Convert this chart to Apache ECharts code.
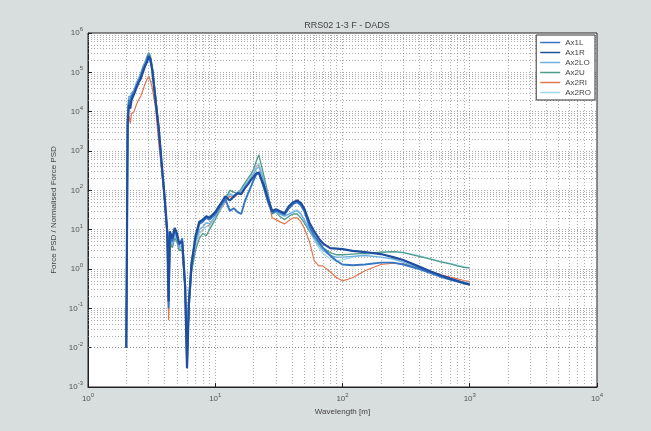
<!DOCTYPE html>
<html>
<head>
<meta charset="utf-8">
<script src="https://cdn.jsdelivr.net/npm/echarts@6/dist/echarts.min.js"></script>
<style>
html,body{margin:0;padding:0;background:#d8dddd;}
#c{width:651px;height:431px;}
</style>
</head>
<body>
<div id="c"></div>
<script>
const titleText = 'RRS02 1-3 F - DADS';
const xName = 'Wavelength [m]';
const yName = 'Force PSD / Normalised Force PSD';
const seriesNames = ['Ax1L', 'Ax1R', 'Ax2LO', 'Ax2U', 'Ax2RI', 'Ax2RO'];

const wavelength = [2.0, 2.05, 2.1, 2.15, 2.2, 2.3, 2.4, 2.5, 2.6, 2.7, 2.8, 2.9, 3.0, 3.1, 3.2, 3.4, 3.6, 3.8, 4.0, 4.2,
  4.3, 4.4, 4.6, 4.8, 5.0, 5.2, 5.5, 5.8, 6.0, 6.2, 6.5, 7.0, 7.5, 8, 8.5, 9, 10, 11, 12, 13,
  14, 15, 16, 17, 18, 19, 20, 21, 22, 24, 26, 28, 30, 32, 35, 38, 41, 44, 47, 50,
  55, 60, 65, 70, 80, 90, 100, 120, 150, 200, 250, 300, 400, 500, 600, 700, 800, 900, 1000];

const ax1L = [0.01, 8000, 20000, 15000, 25000, 30000, 45000, 60000, 80000, 120000,
  150000, 200000, 280000, 250000, 120000, 20000, 4000, 400, 60, 8,
  0.1, 8, 5, 10, 7, 4, 6, 0.4, 0.004, 0.15,
  1.5, 6, 14, 16, 20, 18, 25, 40, 60, 30,
  35, 28, 25, 50, 80, 120, 180, 250, 290, 120,
  50, 27, 30, 28, 24, 35, 45, 50, 42, 30,
  12, 7, 5, 3.5, 2.2, 1.6, 1.3, 1.25, 1.3, 1.45,
  1.45, 1.3, 1.0, 0.78, 0.62, 0.54, 0.48, 0.43, 0.4];

const ax1R = [0.01, 5000, 15000, 12000, 20000, 28000, 40000, 55000, 70000, 100000,
  140000, 180000, 250000, 220000, 110000, 18000, 3500, 450, 70, 9,
  0.15, 9, 6, 11, 8, 4.5, 5, 0.35, 0.003, 0.12,
  1.2, 7, 16, 18, 22, 20, 28, 45, 70, 55,
  70, 85, 80, 110, 140, 180, 220, 270, 280, 140,
  60, 30, 33, 30, 26, 40, 50, 55, 48, 35,
  15, 9, 6, 4.5, 3.4, 3.3, 3.2, 2.9, 2.7, 2.4,
  2.0, 1.7, 1.15, 0.85, 0.68, 0.57, 0.5, 0.44, 0.4];

const ax2LO = [0.02, 6000, 25000, 18000, 30000, 35000, 55000, 70000, 90000, 130000,
  170000, 220000, 250000, 200000, 130000, 25000, 3000, 350, 60, 7,
  0.2, 6, 4, 8, 6, 3.5, 4, 0.3, 0.005, 0.1,
  1, 5, 10, 12, 15, 14, 22, 35, 55, 80,
  70, 90, 100, 130, 160, 200, 260, 350, 400, 180,
  70, 30, 28, 25, 22, 25, 28, 30, 25, 18,
  10, 6, 4, 3, 2.2, 2.0, 2.0, 2.1, 2.2, 2.0,
  1.8, 1.5, 1.05, 0.8, 0.66, 0.57, 0.5, 0.46, 0.43];

const ax2U = [0.01, 10000, 25000, 20000, 28000, 35000, 50000, 70000, 95000, 140000,
  180000, 250000, 320000, 260000, 140000, 25000, 3500, 400, 60, 7,
  0.15, 5, 3.5, 6, 5, 3, 3, 0.3, 0.005, 0.08,
  0.8, 3, 6, 8, 7, 10, 18, 35, 60, 100,
  90, 80, 110, 150, 200, 250, 350, 550, 800, 250,
  80, 25, 28, 22, 18, 22, 25, 25, 20, 15,
  9, 6, 4.5, 3.5, 2.6, 2.3, 2.3, 2.4, 2.5, 2.7,
  2.75, 2.6, 2.1, 1.75, 1.5, 1.35, 1.2, 1.1, 1.05];

const ax2RI = [0.02, 3000, 8000, 5000, 9000, 10000, 15000, 20000, 25000, 35000,
  50000, 65000, 80000, 60000, 40000, 12000, 1500, 300, 50, 5,
  0.05, 5, 3.5, 7, 5, 3, 3.5, 0.3, 0.004, 0.1,
  1, 4, 8, 10, 12, 13, 20, 32, 50, 70,
  65, 80, 95, 130, 170, 220, 300, 400, 450, 200,
  60, 20, 18, 16, 14, 17, 20, 20, 16, 11,
  5, 1.6, 1.2, 1.2, 0.85, 0.6, 0.5, 0.6, 0.9, 1.3,
  1.4, 1.35, 1.05, 0.82, 0.7, 0.62, 0.56, 0.51, 0.48];

const ax2RO = [0.015, 8000, 22000, 17000, 26000, 33000, 48000, 65000, 85000, 120000,
  160000, 210000, 230000, 190000, 120000, 22000, 3000, 380, 55, 7,
  0.2, 6, 4, 7, 5.5, 3.2, 3.5, 0.3, 0.006, 0.1,
  0.9, 4, 8, 10, 12, 12, 20, 33, 55, 85,
  75, 85, 100, 140, 180, 230, 300, 420, 500, 220,
  75, 30, 30, 26, 22, 25, 30, 32, 26, 18,
  10, 5.5, 3.5, 2.5, 1.8, 1.6, 1.7, 2.0, 2.3, 2.6,
  2.75, 2.65, 2.2, 1.8, 1.55, 1.4, 1.25, 1.15, 1.08];

const seriesValues = [ax1L, ax1R, ax2LO, ax2U, ax2RI, ax2RO];
const seriesColors = ['#3576c4', '#1f4e9e', '#6fb0e0', '#4f9a8a', '#e2764f', '#a0d8ec'];
const seriesWidths = [1.9, 2.2, 1.4, 1.3, 1.2, 1.2];
const seriesZ = [5, 6, 3, 2, 1, 1];

const xMin = 1, xMax = 10000, yMin = 0.001, yMax = 1000000;
const xMinorVals = [], yMinorVals = [];
for (let k = 0; k < 4; k++) for (let m = 2; m < 10; m++) xMinorVals.push(m * Math.pow(10, k));
for (let k = -3; k < 6; k++) for (let m = 2; m < 10; m++) yMinorVals.push(+(m * Math.pow(10, k)).toPrecision(3));

const chart = echarts.init(document.getElementById('c'), null, {renderer: 'canvas'});

const supFmt = v => '{b|10}{s|' + Math.round(Math.log10(v)) + '}';
const labelRich = {
  b: {fontSize: 8, color: '#555', fontFamily: 'Liberation Sans'},
  s: {fontSize: 6, color: '#555', fontFamily: 'Liberation Sans', padding: [0, 0, 7, 0]}
};
const gridLine = {type: [1, 2], color: '#8a8a8a', width: 0.7};

const series = seriesNames.map((n, i) => ({
  name: n,
  type: 'line',
  data: wavelength.map((x, j) => [x, seriesValues[i][j]]),
  symbol: 'none',
  z: seriesZ[i] + 10,
  lineStyle: {color: seriesColors[i], width: seriesWidths[i]},
  itemStyle: {color: seriesColors[i]}
}));

series.push({
  name: 'minorgrid',
  type: 'line',
  data: [[10, 1]],
  symbol: 'none',
  lineStyle: {opacity: 0},
  z: 1,
  silent: true,
  markLine: {
    silent: true,
    symbol: 'none',
    label: {show: false},
    lineStyle: gridLine,
    animation: false,
    data: xMinorVals.map(v => ({xAxis: v})).concat(yMinorVals.map(v => ({yAxis: v})))
  }
});

chart.setOption({
  animation: false,
  backgroundColor: '#d8dddd',
  title: {
    text: titleText,
    left: 342, top: 16, textAlign: 'center',
    textStyle: {fontSize: 9, fontWeight: 'normal', color: '#444', fontFamily: 'Liberation Sans'}
  },
  grid: {left: 88, right: 54, top: 33, bottom: 44, show: true, backgroundColor: '#ffffff', borderColor: '#222', borderWidth: 1},
  legend: {
    data: seriesNames,
    orient: 'vertical',
    right: 56, top: 35,
    backgroundColor: '#ffffff',
    borderColor: '#333', borderWidth: 1,
    padding: [3, 4, 3, 4],
    itemWidth: 20, itemHeight: 8, itemGap: 1,
    icon: 'path://M0,4 L20,4 L20,5.5 L0,5.5 Z',
    textStyle: {fontSize: 8, color: '#444', fontFamily: 'Liberation Sans', lineHeight: 9},
    z: 20
  },
  xAxis: {
    type: 'log', logBase: 10, min: xMin, max: xMax,
    name: xName, nameLocation: 'middle', nameGap: 13,
    nameTextStyle: {fontSize: 8, color: '#444', fontFamily: 'Liberation Sans'},
    axisLine: {show: true, lineStyle: {color: '#222'}},
    axisTick: {show: true, inside: true, length: 4, lineStyle: {color: '#222'}},
    axisLabel: {formatter: supFmt, rich: labelRich, margin: 5},
    splitLine: {show: true, lineStyle: gridLine}
  },
  yAxis: {
    type: 'log', logBase: 10, min: yMin, max: yMax,
    name: yName, nameLocation: 'middle', nameGap: 20,
    nameTextStyle: {fontSize: 8, color: '#444', fontFamily: 'Liberation Sans'},
    axisLine: {show: true, lineStyle: {color: '#222'}},
    axisTick: {show: true, inside: true, length: 4, lineStyle: {color: '#222'}},
    axisLabel: {formatter: supFmt, rich: labelRich, margin: 5},
    splitLine: {show: true, lineStyle: gridLine}
  },
  series: series
});
</script>
</body>
</html>
